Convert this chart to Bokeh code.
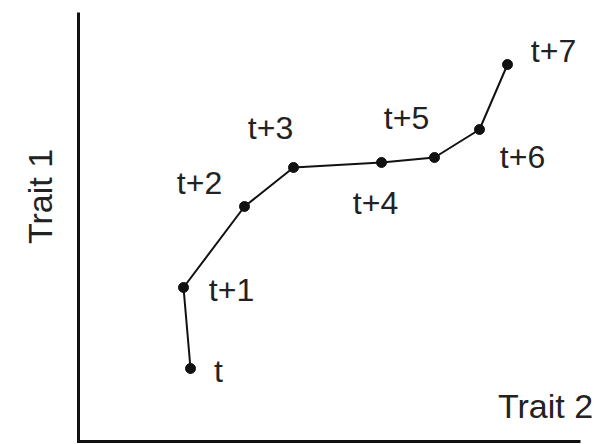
from bokeh.plotting import figure
from bokeh.models import Range1d, Label, ColumnDataSource
from bokeh.core.properties import value
from bokeh.embed import file_html
from bokeh.resources import INLINE
import math

# Trajectory of a lineage through a two-trait space over successive time steps
steps = ["t", "t+1", "t+2", "t+3", "t+4", "t+5", "t+6", "t+7"]
trait2 = [2.24, 2.10, 3.32, 4.30, 6.06, 7.12, 8.02, 8.58]
trait1 = [1.46, 3.08, 4.70, 5.48, 5.58, 5.68, 6.24, 7.54]

# label placement around each point (screen pixels, y downward)
label_dx = [28, 48, -45, -23, -6, -28, 43, 46]
label_dy = [2, 2, -24, -40, 40, -40, 27, -14]

# extent of the drawn axis lines
axis_x_max = 10.04
axis_y_max = 8.58

FONT = "Liberation Sans"
INK = "#111111"
TEXT = "#222222"

p = figure(width=600, height=444, output_backend="svg", toolbar_location=None,
           x_axis_type=None, y_axis_type=None,
           x_range=Range1d(-1.56, 10.44), y_range=Range1d(-0.06, 8.82),
           min_border=0, outline_line_color=None,
           background_fill_color="white", border_fill_color="white")

# axis lines: vertical Trait 1 axis and horizontal Trait 2 axis
p.line(x=[0, 0, axis_x_max], y=[axis_y_max, 0, 0], line_color=INK,
       line_width=3, line_join="miter")

src = ColumnDataSource(dict(x=trait2, y=trait1, step=steps,
                            dx=label_dx, dy=label_dy))

p.line("x", "y", source=src, line_color=INK, line_width=2)
p.scatter("x", "y", source=src, size=10, fill_color=INK, line_color=INK)
p.text("x", "y", text="step", source=src, x_offset="dx", y_offset="dy",
       text_align="center", text_baseline="middle",
       text_font=value(FONT), text_font_size=value("32px"), text_color=TEXT)

p.add_layout(Label(x=9.34, y=0.72, text="Trait 2", text_align="center",
                   text_baseline="middle", text_font=FONT,
                   text_font_size="34px", text_color=TEXT))
p.add_layout(Label(x=-0.78, y=4.9, text="Trait 1", angle=math.pi / 2,
                   text_align="center", text_baseline="middle",
                   text_font=FONT, text_font_size="34px", text_color=TEXT))

open("out.html", "w").write(file_html(p, INLINE))
